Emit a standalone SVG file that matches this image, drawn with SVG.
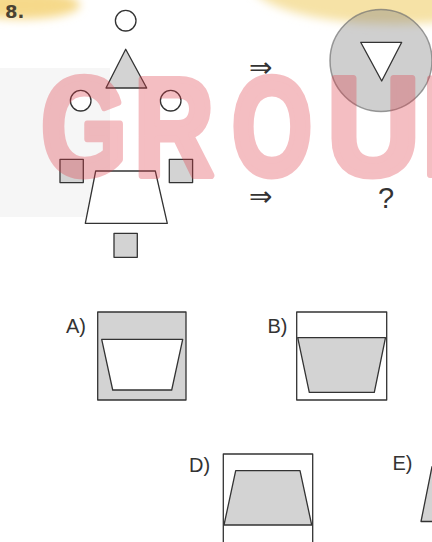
<svg xmlns="http://www.w3.org/2000/svg" width="432" height="542" viewBox="0 0 432 542">
<style>
.ln{stroke:#333;stroke-width:1.3;stroke-linejoin:round}
.w{fill:#fff}
.g{fill:#d3d3d3}
.lbl{font-family:"Liberation Sans",Arial,sans-serif;font-size:20px;fill:#333}
.wm{font-family:"Liberation Sans",Arial,sans-serif;font-weight:bold;font-size:140px;fill:#e03c48;stroke:#e03c48;stroke-width:7;stroke-linejoin:round;opacity:0.33}
.arr{font-family:"DejaVu Sans",sans-serif;font-size:28px;fill:#333}
</style>
<defs>
<filter id="blur" x="-50%" y="-50%" width="200%" height="200%"><feGaussianBlur stdDeviation="5"/></filter>
</defs>
<rect width="432" height="542" fill="#fff"/>
<g id="background">
<ellipse cx="22" cy="5" rx="58" ry="14" fill="#f6d98a" filter="url(#blur)"/>
<ellipse cx="395" cy="-18" rx="145" ry="42" fill="#f6e2a6" filter="url(#blur)"/>
<rect x="0" y="68" width="110" height="149" fill="#f6f6f6"/>
<text x="5" y="17.5" font-family="'DejaVu Sans',sans-serif" font-weight="bold" font-size="18" fill="#4a4232">8.</text>
</g>
<g id="puzzle">
<g id="circle-top"><circle cx="125.7" cy="20.7" r="10.3" class="ln w"/></g>
<g id="triangle"><polygon points="125.7,49.3 106,88 146.7,88" class="ln g"/></g>
<g id="circle-left"><circle cx="80.7" cy="100.7" r="10.3" class="ln w"/></g>
<g id="circle-right"><circle cx="170.7" cy="100.7" r="10.3" class="ln w"/></g>
<g id="square-left"><rect x="60" y="159.3" width="23.3" height="23.3" class="ln g"/></g>
<g id="square-right"><rect x="169.3" y="159.3" width="23.3" height="23.3" class="ln g"/></g>
<g id="trapezoid"><polygon points="95.7,171 155.3,171 167.3,223.3 85.3,223.3" class="ln w"/></g>
<g id="square-bottom"><rect x="114" y="233.3" width="23.3" height="24" class="ln g"/></g>
</g>
<g id="connectors">
<text x="260.7" y="76.5" text-anchor="middle" class="arr">⇒</text>
<text x="260.7" y="205.8" text-anchor="middle" class="arr">⇒</text>
</g>
<g id="answer-top">
<circle cx="381" cy="60.5" r="51" fill="#828282" fill-opacity="0.38" stroke="#707070" stroke-opacity="0.7" stroke-width="1.5"/>
<polygon points="360.7,42.3 401.7,42.3 381.7,81" class="ln w"/>
</g>
<g id="answer-bottom">
<text x="386" y="208" text-anchor="middle" font-family="'Liberation Sans',Arial,sans-serif" font-size="29" fill="#333">?</text>
</g>
<g id="option-a">
<text x="66" y="333" class="lbl">A)</text>
<rect x="97.7" y="312" width="88.3" height="88" class="ln g"/>
<polygon points="101.7,339.3 182.7,339.3 171.7,390 112.7,390" class="ln w"/>
</g>
<g id="option-b">
<text x="267.5" y="333" class="lbl">B)</text>
<rect x="296.7" y="312" width="90" height="88" class="ln w"/>
<polygon points="297.7,337.7 385.5,337.7 374.3,392.3 309.3,392.3" class="ln g"/>
</g>
<g id="option-d">
<text x="189" y="472" class="lbl">D)</text>
<rect x="223.3" y="454" width="89.4" height="92" class="ln w"/>
<polygon points="235.7,470.7 300,470.7 311.7,525 224,525" class="ln g"/>
</g>
<g id="option-e">
<text x="392.5" y="469.5" class="lbl">E)</text>
<polygon points="432,466.7 421,521.5 434,521.5 434,466.7" class="ln g"/>
</g>
<g id="watermark">
<text class="wm" text-anchor="middle" transform="translate(84,174.5) scale(0.79,1)">G</text>
<text class="wm" text-anchor="middle" transform="translate(174,174.5) scale(0.79,1)">R</text>
<text class="wm" text-anchor="middle" transform="translate(272,174.5) scale(0.74,1)">O</text>
<text class="wm" text-anchor="middle" transform="translate(373.5,174.5) scale(0.92,1)">U</text>
<text class="wm" text-anchor="start" transform="translate(422,174.5) scale(0.85,1)">P</text>
</g>
</svg>
